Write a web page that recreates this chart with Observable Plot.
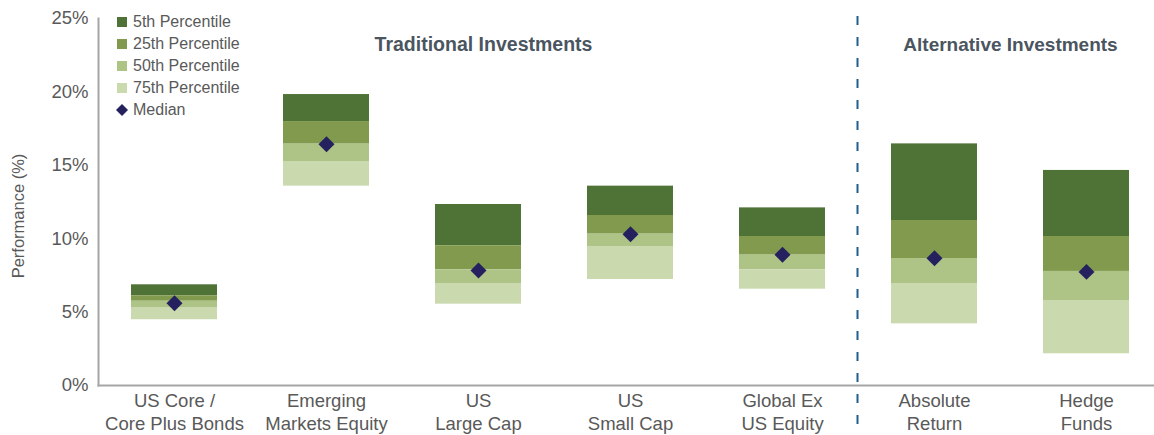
<!DOCTYPE html>
<html><head><meta charset="utf-8">
<script src="https://cdn.jsdelivr.net/npm/d3@7"></script>
<script src="https://cdn.jsdelivr.net/npm/@observablehq/plot@0.6"></script>
<style>
body{margin:0;background:#fff;font-family:Arial,"Liberation Sans",sans-serif;}
#wrap{position:relative;width:1154px;height:435px;overflow:hidden;}
#legend{position:absolute;left:117px;top:11px;font-size:16px;color:#595959;}
#legend .row{display:flex;align-items:center;height:22px;}
#legend .sw{width:10px;height:10px;margin-right:6px;}
#legend svg{margin-right:5px;margin-left:-1px;}
</style></head><body>
<div id="wrap"><div id="chart"></div><div id="legend"></div></div>
<script>
const categories = ["US Core /\nCore Plus Bonds", "Emerging\nMarkets Equity", "US\nLarge Cap", "US\nSmall Cap", "Global Ex\nUS Equity", "Absolute\nReturn", "Hedge\nFunds"];
const p5  = [6.86, 19.82, 12.33, 13.58, 12.10, 16.46, 14.65];
const p25 = [6.11, 17.98, 9.52, 11.58, 10.15, 11.24, 10.15];
const p50 = [5.74, 16.44, 7.88, 10.31, 8.88, 8.65, 7.77];
const p75 = [5.27, 15.26, 6.95, 9.47, 7.88, 6.95, 5.79];
const p95 = [4.48, 13.58, 5.54, 7.22, 6.56, 4.20, 2.16];
const median = [5.61, 16.44, 7.83, 10.31, 8.90, 8.67, 7.74];
const yTicks = [0, 5, 10, 15, 20, 25];
const bandNames = ["5th Percentile", "25th Percentile", "50th Percentile", "75th Percentile"];
const bandColors = ["#4f7336", "#819a4d", "#aec386", "#cbd9af"];
const groupLabels = ["Traditional Investments", "Alternative Investments"];

const segments = [];
categories.forEach((c, i) => {
  const edges = [p5[i], p25[i], p50[i], p75[i], p95[i]];
  for (let k = 0; k < 4; k++) segments.push({cat: c, band: bandNames[k], y1: edges[k + 1], y2: edges[k]});
});
const medians = categories.map((c, i) => ({cat: c, value: median[i]}));

const chart = Plot.plot({
  width: 1154, height: 435,
  marginLeft: 98, marginRight: 1, marginTop: 18, marginBottom: 50,
  style: {fontFamily: "Arial, 'Liberation Sans', sans-serif", color: "#595959", background: "white", overflow: "visible"},
  x: {domain: categories, range: [98, 1153], paddingInner: 0.434, paddingOuter: 0.1776, align: 0.58, axis: null},
  y: {domain: [0, 25], axis: null},
  color: {domain: bandNames, range: bandColors},
  marks: [
    Plot.barY(segments, {x: "cat", y1: "y1", y2: "y2", fill: "band", inset: 0}),
    Plot.dot(medians, {x: "cat", y: "value", symbol: "diamond2", r: 7.2, fill: "#25215f", stroke: null}),
    Plot.ruleX([categories[5]], {dx: -77, stroke: "#1f5f8f", strokeWidth: 2, strokeDasharray: "9,12", insetTop: -2, insetBottom: -50}),
    Plot.frame({anchor: "left", stroke: "#a6a6a6", strokeWidth: 2}),
    Plot.frame({anchor: "bottom", stroke: "#a6a6a6", strokeWidth: 2}),
    Plot.axisY({ticks: yTicks, tickSize: 0, tickPadding: 10, fontSize: 18.5, tickFormat: d => d + "%", label: null}),
    Plot.axisX({tickSize: 0, tickPadding: 5, fontSize: 18.5, lineHeight: 1.24, label: null}),
    Plot.text(["Performance (%)"], {frameAnchor: "left", textAnchor: "middle", dx: -80, dy: 14, rotate: -90, fontSize: 16.5, fill: "#595959"}),
    Plot.text([{cat: categories[2], t: groupLabels[0]}], {x: "cat", text: "t", frameAnchor: "top", lineAnchor: "middle", dy: 26, dx: 5, fontSize: 19.5, fontWeight: "bold", fill: "#4a5560"}),
    Plot.text([{cat: categories[5], t: groupLabels[1]}], {x: "cat", text: "t", frameAnchor: "top", lineAnchor: "middle", dy: 26, dx: 76, fontSize: 19, fontWeight: "bold", fill: "#4a5560"})
  ]
});
document.getElementById("chart").appendChild(chart);

const legend = document.getElementById("legend");
bandNames.forEach((n, k) => {
  const row = document.createElement("div");
  row.className = "row";
  row.innerHTML = `<div class="sw" style="background:${bandColors[k]}"></div><span>${n}</span>`;
  legend.appendChild(row);
});
const mrow = document.createElement("div");
mrow.className = "row";
mrow.innerHTML = `<svg width="12" height="12" viewBox="-6 -6 12 12"><path d="M0,-6L6,0L0,6L-6,0Z" fill="#25215f"/></svg><span>Median</span>`;
legend.appendChild(mrow);
</script>
</body></html>
